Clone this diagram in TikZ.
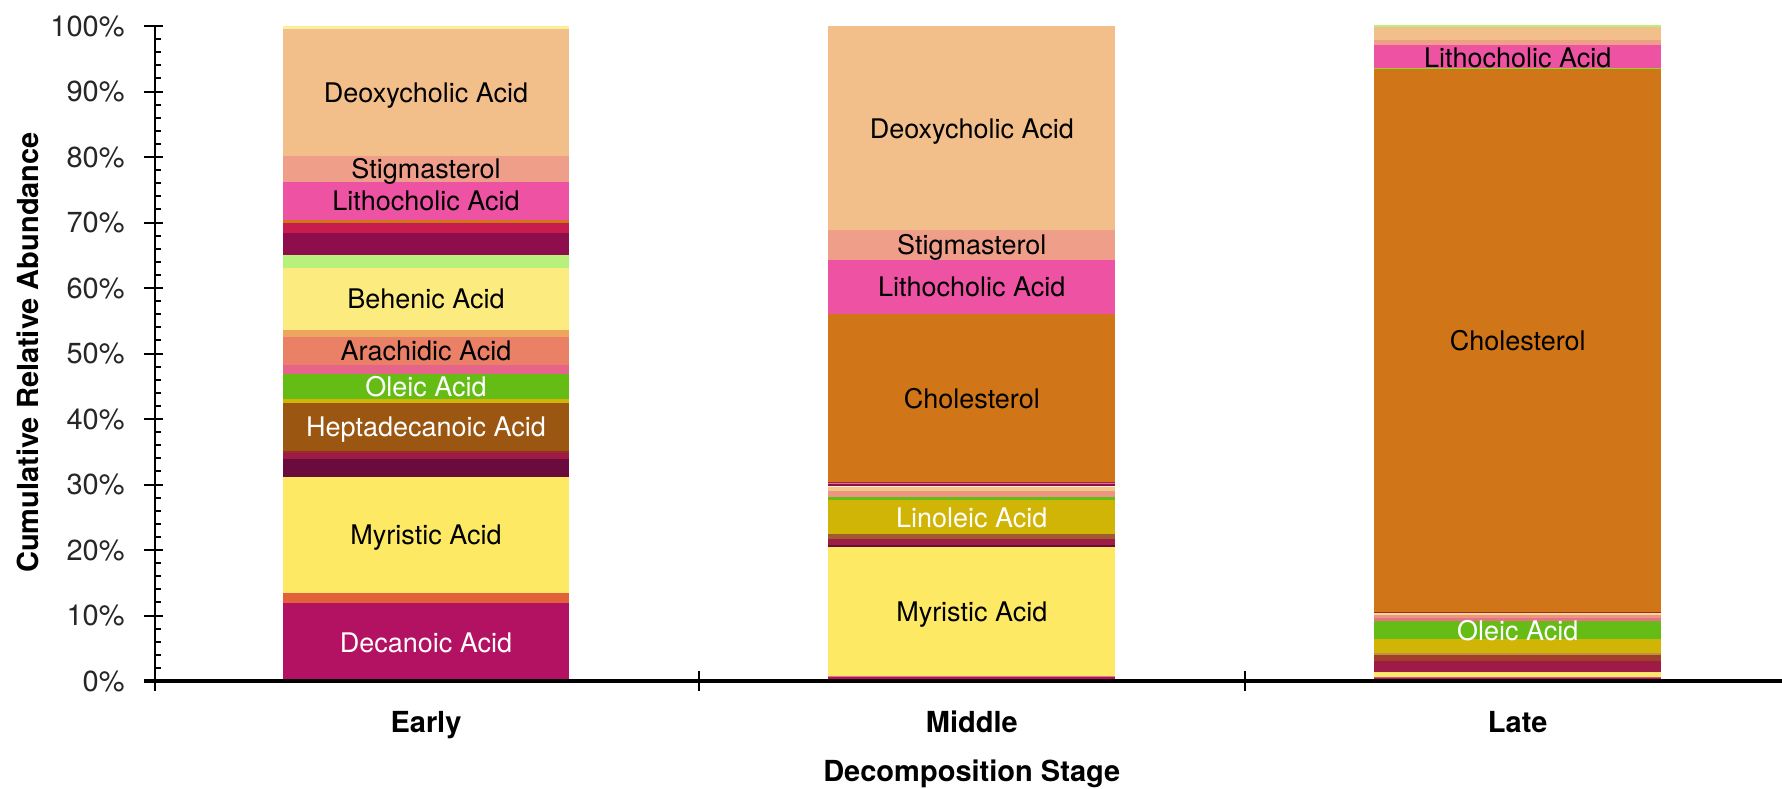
\documentclass[tikz,border=0pt]{standalone}
\usepackage{fontspec}
\setmainfont{TeX Gyre Heros}
\definecolor{paleY}{HTML}{FBEF9A}
\definecolor{deoxy}{HTML}{F2BF8A}
\definecolor{stig}{HTML}{EF9E8A}
\definecolor{litho}{HTML}{EE52A2}
\definecolor{chol}{HTML}{D07518}
\definecolor{crim}{HTML}{C81C4E}
\definecolor{plum}{HTML}{8E0D4D}
\definecolor{lgreen}{HTML}{B7F07B}
\definecolor{behen}{HTML}{FCEC80}
\definecolor{lorange}{HTML}{EEA65E}
\definecolor{arach}{HTML}{EA8066}
\definecolor{pinkA}{HTML}{E6638A}
\definecolor{oleic}{HTML}{65BC14}
\definecolor{lino}{HTML}{D0B406}
\definecolor{hepta}{HTML}{9B5612}
\definecolor{rust}{HTML}{9C2A2A}
\definecolor{wine}{HTML}{9E1B45}
\definecolor{dwine}{HTML}{6A0A3D}
\definecolor{myri}{HTML}{FEE965}
\definecolor{vermil}{HTML}{E3613A}
\definecolor{deca}{HTML}{B31262}
\definecolor{magl}{HTML}{A02050}
\definecolor{cream}{HTML}{FBEFD0}
\definecolor{peach}{HTML}{F5C48A}
\definecolor{salm}{HTML}{EC9580}
\definecolor{brn}{HTML}{A05A30}
\definecolor{pinkB}{HTML}{E8708A}
\definecolor{bgreen}{HTML}{7FE030}
\definecolor{pinkC}{HTML}{E0508A}
\definecolor{tan}{HTML}{C09040}
\definecolor{brnL}{HTML}{A0402A}
\definecolor{paleO}{HTML}{F8DC80}
\begin{document}
\begin{tikzpicture}[x=0.5pt,y=-0.5pt,
  lbl/.style={font=\fontsize{13.5}{16}\selectfont, anchor=base, inner sep=0pt},
  wlbl/.style={lbl, text=white},
  ticklbl/.style={font=\fontsize{14.5}{17}\selectfont, text=black!85, anchor=base east, inner sep=0pt},
  cattitle/.style={font=\bfseries\fontsize{14.5}{17}\selectfont, anchor=base, inner sep=0pt},
  axisline/.style={line width=1.35pt},
  tickline/.style={line width=1pt}]
\useasboundingbox (0,0) rectangle (1782,788);
% Early bar
\foreach \a/\b/\c in {26/29.3/paleY, 29.3/155.7/deoxy, 155.7/181.7/stig, 181.7/220/litho,
  220/222.7/chol, 222.7/233.3/crim, 233.3/255.3/plum, 255.3/267.7/lgreen, 267.7/330/behen,
  330/336.7/lorange, 336.7/365/arach, 365/373.7/pinkA, 373.7/398.7/oleic, 398.7/402.7/lino,
  402.7/451/hepta, 451/453.3/rust, 453.3/459.3/wine, 459.3/477/dwine, 477/592.7/myri,
  592.7/603.3/vermil, 603.3/681/deca}
  \fill[\c] (282.7,\a) rectangle (569.3,\b);
% Middle bar
\foreach \a/\b/\c in {26/230/deoxy, 230/259.7/stig, 259.7/314/litho, 314/481.7/chol,
  481.7/483.3/magl, 483.3/484.3/pinkB, 484.3/485.7/plum, 485.7/487.3/cream, 487.3/490.7/peach,
  490.7/496.7/salm, 496.7/500/oleic, 500/534/lino, 534/539/brn, 539/544.7/wine,
  544.7/547.3/dwine, 547.3/676/myri, 676/677/pinkB, 677/681/deca}
  \fill[\c] (828.3,\a) rectangle (1115.3,\b);
% Late bar
\foreach \a/\b/\c in {25.3/26.7/lgreen, 26.7/40/deoxy, 40/45.3/stig, 45.3/67.7/litho,
  67.7/69/bgreen, 69/611.7/chol, 611.7/613.3/magl, 613.3/615/paleO, 615/618.3/salm,
  618.3/620.7/pinkB, 620.7/639.3/oleic, 639.3/653.3/lino, 653.3/655/tan, 655/660.7/brnL,
  660.7/671.7/wine, 671.7/672.7/paleO, 672.7/676.5/myri, 676.5/677.5/pinkC, 677.5/681/deca}
  \fill[\c] (1374,\a) rectangle (1661.3,\b);
% segment labels: Early
\node[lbl]  (eDeo)  at (426,102.5) {Deoxycholic Acid};
\node[lbl]  (eStig) at (426,178.7) {Stigmasterol};
\node[lbl]  (eLith) at (426,210.9) {Lithocholic Acid};
\node[lbl]  (eBeh)  at (426,308.9) {Behenic Acid};
\node[lbl]  (eAra)  at (426,360.3) {Arachidic Acid};
\node[wlbl] (eOle)  at (426,396.2) {Oleic Acid};
\node[wlbl] (eHep)  at (426,436.9) {Heptadecanoic Acid};
\node[lbl]  (eMyr)  at (426,544.9) {Myristic Acid};
\node[wlbl] (eDec)  at (426,652.2) {Decanoic Acid};
% Middle
\node[lbl]  (mDeo)  at (971.8,138) {Deoxycholic Acid};
\node[lbl]  (mStig) at (971.8,254.9) {Stigmasterol};
\node[lbl]  (mLith) at (971.8,296.9) {Lithocholic Acid};
\node[lbl]  (mChol) at (971.8,408.3) {Cholesterol};
\node[wlbl] (mLin)  at (971.8,527) {Linoleic Acid};
\node[lbl]  (mMyr)  at (971.8,621.7) {Myristic Acid};
% Late
\node[lbl]  (lLith) at (1517.7,67.2) {Lithocholic Acid};
\node[lbl]  (lChol) at (1517.7,350.4) {Cholesterol};
\node[wlbl] (lOle)  at (1517.7,640) {Oleic Acid};
% axes
\draw[axisline] (155,25.3) -- (155,691);
\foreach \p [evaluate=\p as \v using int(\p*10)] in {0,...,10} {
  \draw[tickline] (144,{681-65.5*\p}) -- (163,{681-65.5*\p});
  \node[ticklbl] (yl\p) at (125,{691.4-65.5*\p}) {\v\%};
}
\foreach \m in {0,...,9} \foreach \k in {1,...,4}
  \draw[tickline] (155,{681-65.5*\m-13.1*\k}) -- (160.5,{681-65.5*\m-13.1*\k});
\draw[line width=1.65pt] (144,681) -- (1782,681);
\foreach \x in {699,1244.5} \draw[tickline] (\x,671) -- (\x,691);
% category and axis titles
\node[cattitle] (cEarly) at (426,732) {Early};
\node[cattitle] (cMid)   at (971.8,732) {Middle};
\node[cattitle] (cLate)  at (1517.7,732) {Late};
\node[cattitle] (xtitle) at (971.8,781) {Decomposition Stage};
\node[cattitle, rotate=90] (ytitle) at (38.4,352.5) {Cumulative Relative Abundance};
\end{tikzpicture}
\end{document}
